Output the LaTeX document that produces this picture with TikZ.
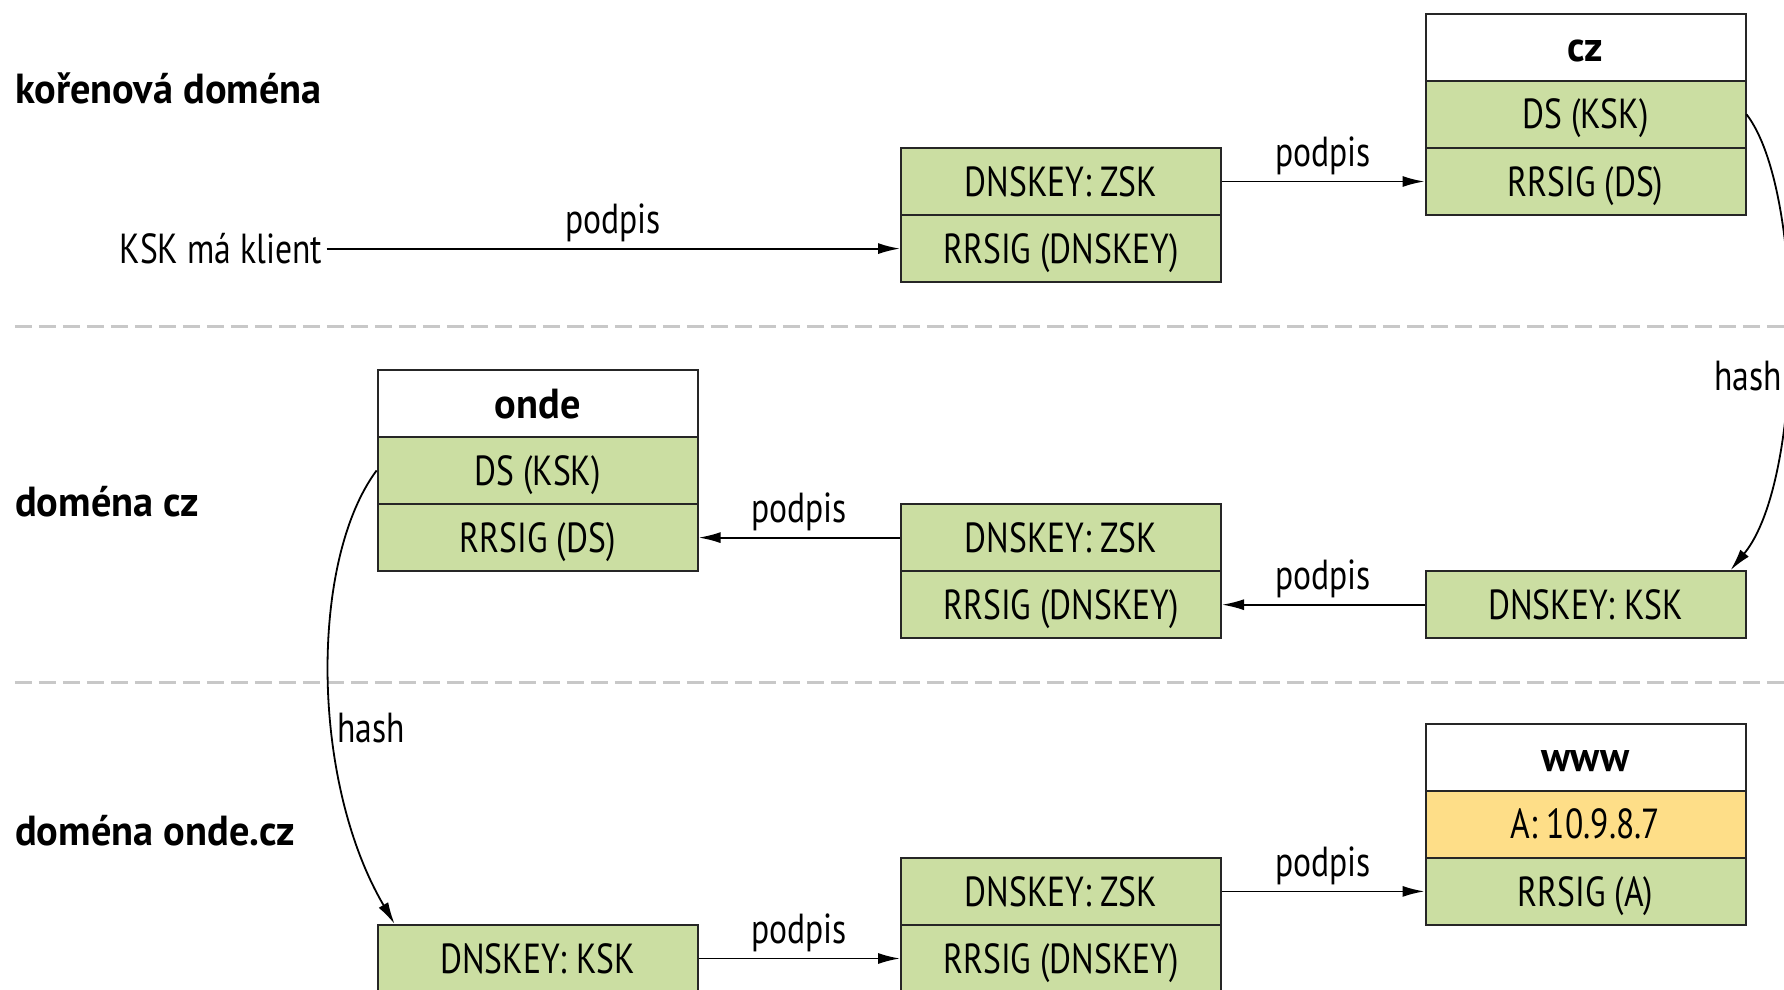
\documentclass[tikz,border=0pt]{standalone}
\usepackage{fontspec}
\setmainfont{PT Sans}[FakeStretch=0.80]
\newfontfamily\zonefont{PT Sans}[FakeStretch=0.96]
\usetikzlibrary{arrows.meta,calc}
\definecolor{boxgreen}{RGB}{203,222,162}
\definecolor{boxyellow}{RGB}{254,222,136}
\definecolor{sepgray}{RGB}{200,200,200}
\begin{document}
\begin{tikzpicture}[x=0.5pt,y=-0.5pt,
  cell/.style={draw=black!85, line width=1pt, minimum width=160pt, minimum height=33.5pt, inner sep=0pt, text height=16pt, text depth=1.3pt, font=\fontsize{21}{24}\selectfont},
  rec/.style={cell, fill=boxgreen},
  hdr/.style={cell, fill=white, font=\fontsize{21}{24}\selectfont\zonefont\bfseries},
  arec/.style={cell, fill=boxyellow},
  zone/.style={anchor=west, font=\fontsize{21}{24}\selectfont\zonefont\bfseries, inner sep=0pt},
  conn/.style={line width=0.9pt, -{Latex[length=11pt,width=5.5pt]}},
  lbl/.style={font=\fontsize{21}{24}\selectfont, inner sep=2pt},
  seprule/.style={sepgray, line width=1.5pt, dash pattern=on 8.5pt off 3.5pt}
]
\useasboundingbox (0,0) rectangle (1784,990);

% zone labels
\node[zone] (z1) at (14.8,88.7) {kořenová doména};
\node[zone] (z2) at (14.8,502) {doména cz};
\node[zone] (z3) at (14.8,830.6) {doména onde.cz};

% separators
\coordinate (s1a) at (14.8,326.5);
\coordinate (s1b) at (1784,326.5);
\coordinate (s2a) at (14.8,682.7);
\coordinate (s2b) at (1784,682.7);
\draw[seprule] (s1a) -- (s1b);
\draw[seprule] (s2a) -- (s2b);

% root zone
\node[hdr] (czh) at (1585.5,47.2) {cz};
\node[rec] (czds) at (1585.5,114.3) {DS (KSK)};
\node[rec] (czrs) at (1585.5,181.5) {RRSIG (DS)};
\node[rec] (rzsk) at (1061,181.5) {DNSKEY: ZSK};
\node[rec] (rsig) at (1061,248.6) {RRSIG (DNSKEY)};
\node[lbl, anchor=east] (klient) at (326.5,248.6) {KSK má klient};

% cz zone
\node[hdr] (ondeh) at (537.6,403.3) {onde};
\node[rec] (ondeds) at (537.6,470.5) {DS (KSK)};
\node[rec] (ondors) at (537.6,537.6) {RRSIG (DS)};
\node[rec] (czzsk) at (1061,537.6) {DNSKEY: ZSK};
\node[rec] (czsig) at (1061,604.7) {RRSIG (DNSKEY)};
\node[rec] (czksk) at (1585.5,604.7) {DNSKEY: KSK};

% onde.cz zone
\node[hdr] (wwwh) at (1585.5,757) {www};
\node[arec] (wwwa) at (1585.5,824.2) {A: 10.9.8.7};
\node[rec] (wwwrs) at (1585.5,891.4) {RRSIG (A)};
\node[rec] (ondezsk) at (1061,891.4) {DNSKEY: ZSK};
\node[rec] (ondesig) at (1061,958.5) {RRSIG (DNSKEY)};
\node[rec] (ondeksk) at (537.6,958.5) {DNSKEY: KSK};

% signature arrows
\draw[conn] (klient.east) -- node[lbl, above=1pt] {podpis} (rsig.west);
\draw[conn] (rzsk.east) -- node[lbl, above=1pt] {podpis} (czrs.west);
\draw[conn] (czksk.west) -- node[lbl, above=1pt] {podpis} (czsig.east);
\draw[conn] (czzsk.west) -- node[lbl, above=1pt] {podpis} (ondors.east);
\draw[conn] (ondeksk.east) -- node[lbl, above=1pt] {podpis} (ondesig.west);
\draw[conn] (ondezsk.east) -- node[lbl, above=1pt] {podpis} (wwwrs.west);

% hash arrows
\draw[conn] (czds.east) .. controls (1805,190) and (1805,480) .. node[lbl, pos=0.57, anchor=east] {hash} ($(czksk.north east)+(-16,0)$);
\draw[conn] (ondeds.west) .. controls (310,560) and (310,780) .. node[lbl, pos=0.6, anchor=west] {hash} ($(ondeksk.north west)+(18,0)$);
\end{tikzpicture}
\end{document}
